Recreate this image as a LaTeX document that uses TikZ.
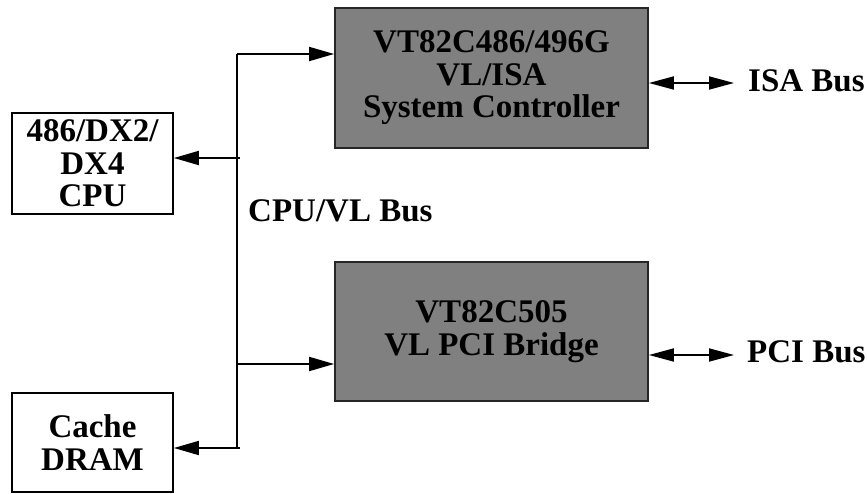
\documentclass[tikz,border=0pt]{standalone}
\usepackage{fontspec}
\setmainfont{Liberation Serif}
\usetikzlibrary{arrows.meta}
\begin{document}
\begin{tikzpicture}[x=1pt,y=-1pt,
  big/.style={font=\bfseries\fontsize{33}{32.5}\selectfont, align=center, inner sep=0pt},
  whitebox/.style={big, draw=black, line width=1.8pt, fill=white},
  graybox/.style={big, draw=black!85, line width=1.8pt, fill=black!50},
  conn/.style={line width=1.8pt, -{Triangle[length=25pt,width=14pt]}},
  biconn/.style={line width=1.8pt, {Triangle[length=25pt,width=13pt]}-{Triangle[length=25pt,width=13pt]}},
  lbl/.style={font=\bfseries\fontsize{33}{32}\selectfont, inner sep=0pt, anchor=base west}]
\useasboundingbox (0,0) rectangle (867,494);
\node[graybox, minimum width=313pt, minimum height=140pt] (isa) at (491.5,78) {VT82C486/496G\\VL/ISA\\System Controller};
\node[graybox, minimum width=313pt, minimum height=139pt] (pci) at (491.5,331.5) {VT82C505\\VL PCI Bridge};
\node[whitebox, minimum width=161pt, minimum height=101pt] (cpu) at (92.5,163.5) {486/DX2/\\DX4\\CPU};
\node[whitebox, minimum width=161pt, minimum height=99pt] (cache) at (92.5,442.5) {Cache\\DRAM};
\coordinate (bt) at (237,54);
\coordinate (bb) at (237,448);
\coordinate (bc) at (240,158);
\coordinate (bp) at (237,364);
\coordinate (bd) at (240,448);
\draw[line width=1.8pt] (bt) -- (bb);
\draw[conn] (bt) -- (bt -| isa.west);
\draw[conn] (bp) -- (bp -| pci.west);
\draw[conn] (bc) -- (bc -| cpu.east);
\draw[conn] (bd) -- (bd -| cache.east);
\coordinate (ie) at (734,83);
\coordinate (pe) at (734,355);
\draw[biconn] (ie -| isa.east) -- (ie);
\draw[biconn] (pe -| pci.east) -- (pe);
\node[lbl] (isalbl) at (748,92) {ISA Bus};
\node[lbl] (pcilbl) at (747,362) {PCI Bus};
\node[lbl] (buslbl) at (248,222) {CPU/VL Bus};
\end{tikzpicture}
\end{document}
